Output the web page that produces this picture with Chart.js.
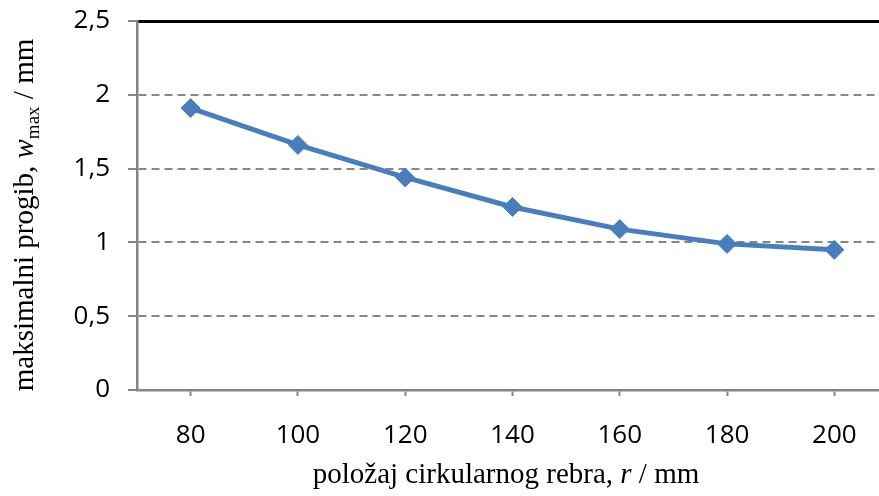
<!DOCTYPE html>
<html>
<head>
<meta charset="utf-8">
<script src="https://cdn.jsdelivr.net/npm/chart.js@4"></script>
<style>
  html, body { margin: 0; padding: 0; background: #fff; overflow: hidden; }
  #wrap { width: 900px; height: 496px; }
</style>
</head>
<body>
<div id="wrap"><canvas id="chart" width="900" height="496"></canvas></div>
<script>
// podaci: maksimalni progib u ovisnosti o polozaju rebra
const categories = ['80', '100', '120', '140', '160', '180', '200'];
const deflection = [1.91, 1.66, 1.44, 1.24, 1.09, 0.99, 0.95];
const yMin = 0;
const yMax = 2.5;
const yStep = 0.5;

const tickFont = '"Open Sans", "Liberation Sans", sans-serif';
const serif = '"Liberation Serif", "Times New Roman", serif';

// crta tekst iz vise dijelova (kurziv, indeks) centriran oko (x, y)
function drawRich(ctx, parts, x, y, angle) {
    ctx.save();
    ctx.translate(x, y);
    ctx.rotate(angle);
    ctx.textBaseline = 'alphabetic';
    ctx.textAlign = 'left';
    ctx.fillStyle = '#000';
    let total = 0;
    parts.forEach(p => {
        ctx.font = p.font;
        p.w = ctx.measureText(p.t).width;
        total += p.w;
    });
    let cx = -total / 2;
    parts.forEach(p => {
        ctx.font = p.font;
        ctx.fillText(p.t, cx, p.dy || 0);
        cx += p.w;
    });
    ctx.restore();
}

const axisTitles = {
    id: 'axisTitles',
    afterDraw(chart) {
        const ctx = chart.ctx;
        drawRich(ctx, [
            {t: 'položaj cirkularnog rebra, ', font: '29px ' + serif},
            {t: 'r', font: 'italic 29px ' + serif},
            {t: ' / mm', font: '29px ' + serif}
        ], 506, 483, 0);
        drawRich(ctx, [
            {t: 'maksimalni progib, ', font: '29px ' + serif},
            {t: 'w', font: 'italic 29px ' + serif},
            {t: 'max', font: '19px ' + serif, dy: 6},
            {t: ' / mm', font: '29px ' + serif}
        ], 33, 215, -Math.PI / 2);
    }
};

const ctx = document.getElementById('chart').getContext('2d');
const chart = new Chart(ctx, {
    type: 'line',
    data: {
        labels: categories,
        datasets: [{
            data: deflection,
            borderColor: '#4a7ebb',
            backgroundColor: '#4a7ebb',
            borderWidth: 5,
            pointStyle: 'rectRot',
            pointRadius: 9.5,
            pointBorderWidth: 1,
            pointBorderColor: '#4a7ebb',
            pointBackgroundColor: '#4a7ebb',
            tension: 0,
            fill: false
        }]
    },
    options: {
        responsive: false,
        devicePixelRatio: 1,
        animation: false,
        layout: {padding: {top: 21, right: 12, left: 0, bottom: 0}},
        plugins: {
            legend: {display: false},
            tooltip: {enabled: false}
        },
        scales: {
            x: {
                type: 'category',
                offset: true,
                grid: {
                    drawOnChartArea: false,
                    offset: false,
                    tickLength: 6,
                    tickColor: '#868686',
                    tickWidth: 2
                },
                border: {color: '#868686', width: 2.5},
                ticks: {
                    font: {family: tickFont, size: 26},
                    color: '#000',
                    padding: 24,
                    maxRotation: 0
                },
                afterFit: s => { s.height = 106; s.paddingLeft = 0; s.paddingRight = 0; }
            },
            top: {
                type: 'category',
                position: 'top',
                ticks: {display: false},
                grid: {display: false, drawTicks: false},
                border: {color: '#000', width: 3},
                afterFit: s => { s.height = 0; s.paddingLeft = 0; s.paddingRight = 0; }
            },
            y: {
                min: yMin,
                max: yMax,
                ticks: {
                    stepSize: yStep,
                    font: {family: tickFont, size: 26},
                    color: '#000',
                    padding: 18,
                    callback: v => String(v).replace('.', ',')
                },
                grid: {
                    color: c => (c.tick && (c.tick.value === yMin || c.tick.value === yMax)) ? 'rgba(0,0,0,0)' : '#868686',
                    lineWidth: 2,
                    tickLength: 9,
                    tickColor: '#868686',
                    tickWidth: 2,
                    tickBorderDash: []
                },
                border: {color: '#868686', width: 2.5, dash: [8, 5]},
                afterFit: s => { s.width = 137; s.paddingTop = 0; s.paddingBottom = 0; }
            }
        }
    },
    plugins: [axisTitles]
});
</script>
</body>
</html>
